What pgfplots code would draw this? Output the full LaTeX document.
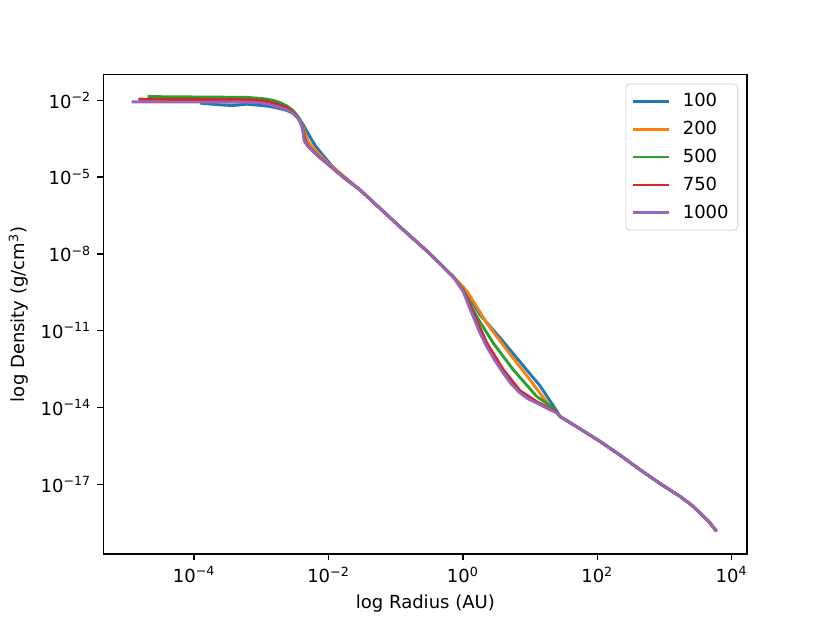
\documentclass[border=0pt]{standalone}
\usepackage{pgfplots}
\pgfplotsset{compat=1.18}
\usepackage{fontspec}
\setmainfont{DejaVu Sans}
\definecolor{c0}{HTML}{1F77B4}
\definecolor{c1}{HTML}{FF7F0E}
\definecolor{c2}{HTML}{2CA02C}
\definecolor{c3}{HTML}{D62728}
\definecolor{c4}{HTML}{9467BD}
\newcommand{\tl}[1]{10\textsuperscript{#1}}
\begin{document}
\begin{tikzpicture}
\begin{axis}[
  scale only axis, width=357.12pt, height=266.11pt,
  xmin=-5.345, xmax=4.229, ymin=-19.72, ymax=-1.0,
  xtick={-4,-2,0,2,4},
  xticklabels={\tl{−4},\tl{−2},\tl{0},\tl{2},\tl{4}},
  ytick={-17,-14,-11,-8,-5,-2},
  yticklabels={\tl{−17},\tl{−14},\tl{−11},\tl{−8},\tl{−5},\tl{−2}},
  xtick pos=left, ytick pos=left,
  tick align=outside, major tick length=3.5pt,
  tick style={black, line width=0.8pt},
  axis line style={line width=0.8pt},
  ticklabel style={font=\fontsize{10}{12}\selectfont},
  label style={font=\fontsize{10}{12}\selectfont},
  xlabel={log Radius (AU)},
  ylabel={log Density (g/cm\textsuperscript{3})},
  every axis plot/.append style={line width=1.6pt, line join=round},
  legend cell align=left,
  legend style={at={(1,1)}, anchor=north east, xshift=-5pt, yshift=-5pt,
    draw=black!20, rounded corners=2pt, fill=white, fill opacity=0.8, text opacity=1,
    font=\fontsize{10}{12}\selectfont, inner xsep=3pt, inner ysep=3pt, row sep=2.6pt,
    /tikz/every odd column/.append style={column sep=5pt}},
  legend image code/.code={\draw[#1] (0pt,0pt) -- (20pt,0pt);},
]
\addplot[c0] coordinates {
(-3.913,-2.112) (-3.600,-2.180) (-3.422,-2.206) (-3.218,-2.151) (-3.020,-2.198) (-2.920,-2.225) (-2.822,-2.269)
(-2.720,-2.325) (-2.623,-2.393) (-2.540,-2.490) (-2.474,-2.635) (-2.420,-2.780) (-2.375,-2.959) (-2.310,-3.260) (-2.250,-3.545) (-2.190,-3.790) (-2.127,-4.002)
(-2.003,-4.392) (-1.878,-4.782) (-1.700,-5.170) (-1.532,-5.496) (-0.937,-6.941) (-0.490,-7.994)
(-0.143,-8.892) (0.005,-9.361) (0.154,-9.919) (0.254,-10.376) (0.552,-11.273)
(0.849,-12.210) (1.147,-13.147) (1.395,-14.123) (1.444,-14.345) (1.750,-14.840) (2.040,-15.321)
(2.340,-15.860) (2.635,-16.425) (2.930,-16.960) (3.230,-17.467) (3.400,-17.800) (3.528,-18.115) (3.660,-18.450) (3.776,-18.834)};
\addlegendentry{100}
\addplot[c1] coordinates {
(-4.791,-2.020) (-3.218,-2.030) (-3.020,-2.060) (-2.920,-2.100) (-2.822,-2.160) (-2.720,-2.235) (-2.623,-2.330)
(-2.540,-2.450) (-2.474,-2.620) (-2.420,-2.820) (-2.375,-3.077) (-2.301,-3.611) (-2.201,-3.935) (-2.110,-4.180) (-2.027,-4.404)
(-1.829,-4.833) (-1.532,-5.496) (-0.937,-6.941) (-0.490,-7.994) (-0.143,-8.892)
(0.005,-9.283) (0.080,-9.528) (0.354,-10.699) (0.651,-11.742) (0.998,-12.913)
(1.296,-13.955) (1.395,-14.201) (1.444,-14.345) (1.750,-14.840) (2.040,-15.321)
(2.340,-15.860) (2.635,-16.425) (2.930,-16.960) (3.230,-17.467) (3.400,-17.800) (3.528,-18.115) (3.660,-18.450) (3.776,-18.834)};
\addlegendentry{200}
\addplot[c2] coordinates {
(-4.691,-1.855) (-3.218,-1.886) (-3.020,-1.925) (-2.920,-1.955) (-2.822,-2.003) (-2.720,-2.090) (-2.623,-2.218)
(-2.540,-2.370) (-2.474,-2.569) (-2.430,-2.730) (-2.399,-2.920) (-2.370,-3.250) (-2.350,-3.545) (-2.310,-3.760) (-2.250,-3.916) (-2.140,-4.200) (-2.027,-4.454)
(-1.780,-5.000) (-1.532,-5.496) (-0.937,-6.941) (-0.490,-7.994) (-0.143,-8.892)
(0.005,-9.400) (0.205,-10.442) (0.452,-11.480) (0.750,-12.522) (1.098,-13.564)
(1.345,-14.017) (1.444,-14.345) (1.750,-14.840) (2.040,-15.321)
(2.340,-15.860) (2.635,-16.425) (2.930,-16.960) (3.230,-17.467) (3.400,-17.800) (3.528,-18.115) (3.660,-18.450) (3.776,-18.834)};
\addlegendentry{500}
\addplot[c3] coordinates {
(-4.831,-1.956) (-3.218,-1.976) (-3.020,-2.003) (-2.920,-2.040) (-2.822,-2.101) (-2.720,-2.180) (-2.623,-2.296)
(-2.540,-2.440) (-2.474,-2.635) (-2.430,-2.800) (-2.399,-2.998) (-2.370,-3.300) (-2.350,-3.603) (-2.310,-3.790) (-2.250,-3.935) (-2.140,-4.210) (-2.027,-4.454)
(-1.780,-5.000) (-1.532,-5.496) (-0.937,-6.941) (-0.490,-7.994) (-0.143,-8.892)
(0.005,-9.439) (0.154,-10.297) (0.354,-11.468) (0.601,-12.522) (0.849,-13.342)
(1.098,-13.771) (1.395,-14.181) (1.444,-14.345) (1.750,-14.840) (2.040,-15.321)
(2.340,-15.860) (2.635,-16.425) (2.930,-16.960) (3.230,-17.467) (3.400,-17.800) (3.528,-18.115) (3.660,-18.450) (3.776,-18.834)};
\addlegendentry{750}
\addplot[c4] coordinates {
(-4.929,-2.062) (-3.218,-2.073) (-3.020,-2.101) (-2.920,-2.140) (-2.822,-2.206) (-2.720,-2.280) (-2.623,-2.374)
(-2.540,-2.490) (-2.474,-2.635) (-2.430,-2.800) (-2.399,-2.998) (-2.380,-3.250) (-2.365,-3.545) (-2.350,-3.635) (-2.300,-3.800) (-2.250,-3.935) (-2.140,-4.210)
(-2.027,-4.454) (-1.780,-5.000) (-1.532,-5.496) (-0.937,-6.941) (-0.490,-7.994) (-0.143,-8.892)
(0.005,-9.466) (0.080,-9.980) (0.154,-10.442) (0.250,-11.060) (0.354,-11.613) (0.480,-12.180) (0.601,-12.651) (0.720,-13.080) (0.849,-13.432)
(0.970,-13.660) (1.098,-13.822) (1.395,-14.212) (1.444,-14.345) (1.750,-14.840) (2.040,-15.321)
(2.340,-15.860) (2.635,-16.425) (2.930,-16.960) (3.230,-17.467) (3.400,-17.800) (3.528,-18.115) (3.660,-18.450) (3.776,-18.834)};
\addlegendentry{1000}
\end{axis}
\pgfresetboundingbox
\path (-57.6pt,-38.02pt) rectangle (403.2pt,307.58pt);
\end{tikzpicture}
\end{document}
